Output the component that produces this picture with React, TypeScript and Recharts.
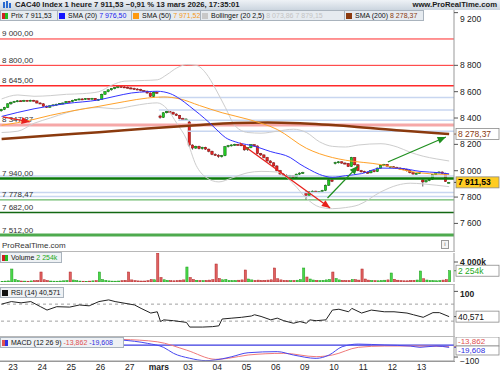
import React from "react";
import { ComposedChart, Bar, Line, XAxis, YAxis, ReferenceLine } from "recharts";

const FONT = "'Liberation Sans', Arial, sans-serif";

// hourly candles: open, high, low, close (20 févr. partial, then 9 bars a day)
const CANDLES: [number, number, number, number][] = [
  [8455, 8470, 8448, 8465], [8465, 8485, 8460, 8480], [8480, 8512, 8476, 8508], [8508, 8524, 8500, 8520],
  // 23
  [8522, 8530, 8515, 8527], [8527, 8536, 8520, 8531], [8531, 8535, 8522, 8526], [8526, 8538, 8524, 8534], [8534, 8537, 8526, 8530],
  [8530, 8539, 8527, 8535], [8535, 8538, 8526, 8530], [8530, 8533, 8510, 8514], [8514, 8520, 8508, 8512],
  // 24
  [8508, 8512, 8485, 8490], [8490, 8495, 8476, 8482], [8482, 8496, 8478, 8493], [8493, 8503, 8488, 8500], [8500, 8508, 8495, 8505],
  [8505, 8514, 8500, 8510], [8510, 8518, 8504, 8514], [8514, 8528, 8508, 8526], [8526, 8530, 8518, 8522],
  // 25
  [8524, 8538, 8520, 8535], [8535, 8543, 8530, 8540], [8540, 8548, 8534, 8545], [8545, 8549, 8536, 8541], [8541, 8551, 8538, 8548],
  [8548, 8552, 8540, 8544], [8544, 8553, 8541, 8550], [8550, 8552, 8532, 8536], [8536, 8545, 8532, 8542],
  // 26
  [8542, 8585, 8540, 8580], [8580, 8604, 8576, 8600], [8600, 8618, 8595, 8614], [8614, 8628, 8608, 8624], [8624, 8636, 8618, 8630],
  [8630, 8645, 8626, 8640], [8640, 8646, 8630, 8636], [8636, 8642, 8628, 8633], [8633, 8640, 8625, 8630],
  // 27
  [8628, 8636, 8618, 8624], [8624, 8630, 8614, 8620], [8620, 8626, 8612, 8617], [8617, 8622, 8604, 8608], [8608, 8612, 8598, 8604],
  [8604, 8608, 8585, 8590], [8590, 8594, 8560, 8565], [8565, 8598, 8558, 8594], [8596, 8602, 8584, 8588],
  // mars
  [8415, 8425, 8395, 8405], [8405, 8445, 8400, 8440], [8440, 8455, 8435, 8450], [8450, 8455, 8438, 8444], [8444, 8448, 8425, 8430],
  [8430, 8436, 8415, 8420], [8420, 8424, 8390, 8396], [8396, 8402, 8380, 8386], [8386, 8398, 8382, 8392],
  // 03
  [8370, 8378, 8180, 8195], [8195, 8200, 8160, 8172], [8172, 8190, 8165, 8185], [8185, 8190, 8162, 8168], [8168, 8182, 8160, 8178],
  [8178, 8182, 8158, 8164], [8164, 8168, 8140, 8148], [8148, 8152, 8118, 8124], [8124, 8132, 8112, 8120],
  // 04
  [8118, 8125, 8098, 8108], [8108, 8120, 8100, 8114], [8114, 8188, 8110, 8182], [8182, 8196, 8176, 8190], [8190, 8200, 8184, 8196],
  [8196, 8205, 8188, 8200], [8200, 8204, 8190, 8197], [8197, 8201, 8186, 8192], [8192, 8195, 8152, 8158],
  // 05
  [8160, 8178, 8150, 8175], [8175, 8202, 8170, 8198], [8198, 8200, 8182, 8188], [8188, 8192, 8125, 8130], [8130, 8135, 8112, 8120],
  [8120, 8124, 8094, 8100], [8100, 8105, 8068, 8074], [8074, 8080, 8054, 8060], [8060, 8064, 8030, 8036],
  // 06
  [8036, 8042, 7995, 8000], [8000, 8006, 7970, 7975], [7975, 7980, 7960, 7965], [7965, 7972, 7950, 7956], [7956, 7968, 7948, 7962],
  [7962, 7966, 7944, 7950], [7950, 7978, 7946, 7974], [7974, 7988, 7968, 7982], [7982, 7992, 7976, 7986],
  // 09
  [7830, 7845, 7780, 7810], [7810, 7845, 7804, 7840], [7840, 7850, 7830, 7845], [7845, 7848, 7832, 7837], [7837, 7846, 7830, 7842],
  [7842, 7855, 7836, 7850], [7850, 7895, 7845, 7890], [7890, 7935, 7884, 7930], [7930, 7934, 7914, 7920],
  // 10
  [8055, 8068, 8048, 8062], [8062, 8072, 8055, 8068], [8068, 8070, 8052, 8058], [8058, 8064, 8048, 8055], [8055, 8058, 8028, 8032],
  [8032, 8105, 8028, 8100], [8100, 8102, 8040, 8045], [8045, 8050, 7996, 8000], [8000, 8006, 7986, 7992],
  // 11
  [7994, 8000, 7982, 7988], [7988, 7994, 7978, 7984], [7984, 8004, 7980, 8000], [8000, 8004, 7988, 7994], [7994, 8024, 7990, 8020],
  [8020, 8044, 8016, 8040], [8040, 8052, 8034, 8048], [8048, 8050, 8030, 8035], [8028, 8036, 8024, 8032],
  // 12
  [8030, 8034, 8018, 8024], [8024, 8030, 8014, 8020], [8020, 8026, 8010, 8015], [8015, 8020, 8004, 8010], [8010, 8014, 7994, 8000],
  [8000, 8004, 7980, 7985], [7985, 7990, 7970, 7975], [7975, 7984, 7972, 7980], [7980, 7988, 7976, 7985],
  // 13
  [7930, 7935, 7880, 7915], [7915, 7930, 7910, 7925], [7925, 7940, 7920, 7935], [7935, 7974, 7930, 7970], [7970, 7990, 7966, 7985],
  [7985, 7996, 7980, 7990], [7990, 7995, 7975, 7980], [7980, 7984, 7915, 7918], [7906, 7915, 7904, 7911.53],
];

// volume in thousands, same bars
const VOLUME = [
  150, 180, 220, 2600,
  500, 300, 200, 180, 160, 220, 260, 300, 2000,
  450, 280, 200, 170, 160, 200, 240, 300, 2000,
  400, 260, 190, 160, 150, 180, 230, 280, 2000,
  500, 320, 220, 180, 170, 200, 260, 320, 2000,
  420, 280, 220, 200, 200, 260, 500, 450, 5800,
  900, 450, 320, 260, 240, 280, 360, 420, 3000,
  900, 500, 350, 300, 280, 320, 380, 460, 3600,
  700, 450, 520, 320, 280, 300, 360, 420, 2400,
  600, 420, 320, 380, 300, 320, 380, 440, 2800,
  650, 420, 320, 280, 260, 300, 360, 480, 2800,
  1000, 600, 400, 320, 300, 340, 420, 520, 2000,
  700, 420, 320, 280, 300, 500, 460, 380, 2600,
  600, 380, 300, 260, 250, 300, 360, 420, 1800,
  550, 360, 280, 240, 240, 300, 340, 400, 2200,
  650, 400, 300, 260, 250, 300, 380, 460, 2254,
];

const DAY_START = [4, 13, 22, 31, 40, 49, 58, 67, 76, 85, 94, 103, 112, 121, 130];
const DAY_LABELS = ["23", "24", "25", "26", "27", "mars", "03", "04", "05", "06", "09", "10", "11", "12", "13"];

// indicator readings at some bars: [bar, value]
const SMA20_PTS: [number, number][] = [
  [0, 8412], [10, 8470], [20, 8510], [30, 8538], [35, 8565], [40, 8590], [45, 8600], [48, 8603], [52, 8585],
  [55, 8545], [58, 8489], [61, 8430], [64, 8366], [67, 8295], [69, 8252], [72, 8220], [74, 8206], [77, 8192],
  [83, 8145], [89, 8100], [92, 8050], [95, 8008], [98, 7972], [102, 7950], [106, 7962], [111, 7978], [117, 8020],
  [123, 8018], [129, 7995], [135, 7985], [138, 7976.5],
];
const SMA50_PTS: [number, number][] = [
  [0, 8345], [5, 8365], [10, 8390], [15, 8420], [22, 8455], [30, 8489], [38, 8525], [45, 8552], [50, 8560],
  [55, 8545], [61, 8495], [68, 8440], [76, 8390], [85, 8313], [94, 8170], [102, 8100], [106, 8080], [117, 8046],
  [126, 7995], [133, 7975], [138, 7971.52],
];
const SMA200_PTS: [number, number][] = [
  [0, 8240], [15, 8268], [30, 8292], [45, 8320], [60, 8345], [72, 8362], [82, 8366], [92, 8360], [108, 8336],
  [123, 8305], [138, 8278.37],
];
const BB_UP_PTS: [number, number][] = [
  [0, 8545], [5, 8575], [10, 8565], [15, 8570], [20, 8580], [25, 8585], [30, 8600], [34, 8650], [38, 8680],
  [44, 8685], [48, 8690], [51, 8730], [54, 8780], [57, 8805], [60, 8800], [63, 8740], [66, 8620], [69, 8480],
  [72, 8340], [76, 8290], [80, 8285], [85, 8300], [90, 8315], [94, 8290], [98, 8220], [102, 8185], [106, 8180],
  [110, 8195], [117, 8205], [122, 8180], [126, 8140], [130, 8110], [134, 8090], [138, 8073.86],
];
const BB_LO_PTS: [number, number][] = [
  [0, 8290], [5, 8300], [10, 8360], [15, 8400], [20, 8440], [25, 8470], [30, 8480], [35, 8470], [40, 8490],
  [45, 8510], [48, 8515], [51, 8470], [54, 8360], [57, 8240], [60, 8040], [63, 7950], [67, 7915], [71, 7945],
  [76, 7985], [80, 7995], [85, 7990], [90, 7900], [94, 7790], [98, 7725], [102, 7712], [106, 7720], [110, 7740],
  [117, 7840], [122, 7890], [126, 7905], [130, 7900], [134, 7890], [138, 7879.15],
];
const RSI_PTS: [number, number][] = [
  [0, 70], [3, 76], [6, 73], [9, 76], [12, 64], [14, 56], [17, 64], [21, 63], [24, 68], [27, 66], [30, 76],
  [33, 80], [35, 76], [41, 68], [43, 60], [46, 49], [48, 52], [49, 29], [50, 33], [53, 31], [57, 27], [58, 16],
  [62, 16], [65, 17], [67, 19], [68, 35], [71, 37], [74, 39], [77, 42], [78, 45], [80, 41], [83, 33], [85, 37],
  [87, 31], [90, 25], [92, 29], [94, 25], [95, 33], [97, 31], [100, 33], [102, 56], [104, 58], [107, 52],
  [108, 60], [111, 49], [114, 56], [118, 52], [121, 52], [125, 49], [127, 45], [130, 39], [133, 50], [135, 50],
  [138, 40.571],
];
const MACD_PTS: [number, number][] = [
  [0, 60], [10, 62], [20, 55], [30, 52], [37, 42], [45, 14], [50, -20], [53, -69], [58, -110], [63, -130],
  [68, -115], [71, -97], [76, -64], [85, -55], [90, -83], [97, -111], [101, -83], [105, -14], [110, 8],
  [118, 0], [126, -8], [129, -19], [134, -8], [138, -19.608],
];
const SIGNAL_PTS: [number, number][] = [
  [0, 50], [10, 55], [20, 55], [30, 50], [37, 47], [48, 27], [57, -42], [66, -119], [70, -110], [76, -83],
  [87, -69], [97, -97], [102, -83], [110, -19], [118, -8], [128, -8], [138, -13.862],
];

const PRICE_TICKS = [7400, 7600, 7800, 8000, 8200, 8400, 8600, 8800, 9000, 9200];
const RED_LEVELS = [9000, 8800, 8645];
const PIVOT_LEVEL = 8347.87;
const GREEN_LEVELS = [7940, 7778.47, 7682, 7512];
// [price, first bar]
const BLUE_LEVELS: [number, number][] = [[8555, 49], [8460, 49], [8384, 55], [8300, 58], [7960, 0], [7835, 0], [7805, 0]];
// [[x, price], [x, price]]
const RED_ARROWS: [[number, number], [number, number]][] = [[[0.9, 8408], [9.2, 8370]], [[74, 8210], [101.8, 7717]]];
const GREEN_ARROWS: [[number, number], [number, number]][] = [[[101, 7793], [110.4, 8035]], [[119.6, 8066], [137.5, 8256]]];

const fmt = (v: number, dec: number) => {
  const [i, d] = Math.abs(v).toFixed(dec).split(".");
  const s = i.replace(/\B(?=(\d{3})+(?!\d))/g, " ");
  return (v < 0 ? "-" : "") + s + (d ? "," + d : "");
};

const rows: any[] = CANDLES.map(([o, h, l, c], i) => ({
  x: i + 0.5, o, h, l, c, hl: [l, h], vol: VOLUME[i], up: c >= o,
}));
const put = (key: string, pts: [number, number][]) => pts.forEach(([i, v]) => { rows[i][key] = v; });
put("sma20", SMA20_PTS);
put("sma50", SMA50_PTS);
put("sma200", SMA200_PTS);
put("bbUp", BB_UP_PTS);
put("bbLo", BB_LO_PTS);
put("rsi", RSI_PTS);
put("macd", MACD_PTS);
put("signal", SIGNAL_PTS);

const last = CANDLES[CANDLES.length - 1];
const lastVal = (pts: [number, number][]) => pts[pts.length - 1][1];

const W = 500;
const AXIS_W = 46;
const X_DOMAIN: [number, number] = [0, 140];
const MARGIN = { top: 0, right: 0, bottom: 0, left: 0 };

const Candle = (p: any) => {
  const { x, y, width, height, payload } = p;
  if (!payload) return null;
  const top = Math.min(y, y + height);
  const hh = Math.abs(height);
  const k = payload.h === payload.l ? 0 : hh / (payload.h - payload.l);
  const oy = top + (payload.h - payload.o) * k;
  const cy = top + (payload.h - payload.c) * k;
  const cx = x + width / 2;
  const up = payload.c >= payload.o;
  return (
    <g>
      <line x1={cx} y1={top} x2={cx} y2={top + hh} stroke="#333" strokeWidth={0.8} />
      <rect x={x} y={Math.min(oy, cy)} width={width} height={Math.max(1, Math.abs(oy - cy))}
        fill={up ? "#22cc22" : "#e52222"} stroke={up ? "#0b5e0b" : "#7d1010"} strokeWidth={0.5} />
    </g>
  );
};

const VolBar = (p: any) => {
  const { x, y, width, height, payload } = p;
  if (!payload) return null;
  return <rect x={x} y={y} width={width} height={Math.max(0.5, height)}
    fill={payload.up ? "#48d848" : "#e06060"} stroke={payload.up ? "#1d9a1d" : "#b02424"} strokeWidth={0.5} />;
};

const level = (label: string, color: string, w: number) => (p: any) => {
  const left = Math.min(p.x1, p.x2);
  return (
    <g>
      <line x1={p.x1} y1={p.y1} x2={p.x2} y2={p.y2} stroke={color} strokeWidth={w} />
      {label ? <text x={left + 2} y={p.y1 - 2.5} fontSize={8} fill="#333" fontFamily={FONT}>{label}</text> : null}
    </g>
  );
};

const arrow = (color: string) => (p: any) => {
  const { x1, y1, x2, y2 } = p;
  const a = Math.atan2(y2 - y1, x2 - x1);
  const L = 9, s = 0.4;
  const pts = [
    [x2, y2],
    [x2 - L * Math.cos(a - s), y2 - L * Math.sin(a - s)],
    [x2 - L * Math.cos(a + s), y2 - L * Math.sin(a + s)],
  ].map((q) => q.join(",")).join(" ");
  return (
    <g>
      <line x1={x1} y1={y1} x2={x2} y2={y2} stroke={color} strokeWidth={1.3} />
      <polygon points={pts} fill={color} />
    </g>
  );
};

const valueBox = (text: string, color: string, bg: string, dy = 0, bold = false, h = 11, fs = 8.5) => (p: any) => {
  const right = Math.max(p.x1, p.x2);
  const x = right + 2;
  const y = p.y1 + dy;
  return (
    <g>
      <line x1={right} y1={p.y1} x2={right + 3} y2={p.y1} stroke={color} strokeWidth={1} />
      <rect x={x} y={y - h / 2} width={43} height={h} fill={bg} stroke="#8a8a8a" strokeWidth={0.8} />
      <text x={x + 2} y={y + fs * 0.35} fontSize={fs} fill={color} fontFamily={FONT} fontWeight={bold ? 700 : 400}>{text}</text>
    </g>
  );
};

const axisTick = (fmtFn: (v: number) => string, minY: number, maxY: number, bold = false) => (p: any) => {
  const y = Math.min(Math.max(p.y, minY), maxY);
  return (
    <text x={p.x} y={y + 3} fontSize={8.5} fill="#222" fontFamily={FONT} fontWeight={bold ? 700 : 400}>
      {fmtFn(p.payload.value)}
    </text>
  );
};

const DayTick = (p: any) => {
  const i = DAY_START.indexOf(p.payload.value);
  const label = DAY_LABELS[i] ?? "";
  return (
    <text x={p.x} y={p.y + 9} textAnchor="middle" fontSize={8.5} fill="#222" fontFamily={FONT}
      fontWeight={label === "mars" ? 700 : 400}>{label}</text>
  );
};

const box: React.CSSProperties = {
  position: "absolute", height: 9, background: "#e6ebf0", border: "1px solid #a9b3bd",
  fontSize: 7, lineHeight: "9px", fontFamily: FONT, whiteSpace: "nowrap", color: "#111", overflow: "hidden",
};
const sq = (c: string): React.CSSProperties => ({
  display: "inline-block", width: 6, height: 6, background: c, marginRight: 3, verticalAlign: "-0.5px",
});

const LegendItem = ({ left, width, icon, label, value, color }: any) => (
  <div style={{ ...box, left, width, top: 10 }}>
    <span style={{ marginLeft: 1 }} />
    {icon === "split" ? (
      <span style={{ ...sq("#22bb22"), background: "linear-gradient(90deg,#d02020 50%,#22bb22 50%)" }} />
    ) : (
      <span style={sq(icon)} />
    )}
    <span>{label} </span>
    <span style={{ color }}>{value}</span>
  </div>
);

const panelLine = (top: number): React.CSSProperties => ({
  position: "absolute", left: 0, top, width: 455, height: 1, background: "#b8b8b8",
});

export default function App() {
  return (
    <div style={{ position: "absolute", left: 0, top: 0, width: W, height: 375, background: "#fff", overflow: "hidden" }}>
      {/* price */}
      <div style={{ position: "absolute", left: 0, top: 10 }}>
        <ComposedChart width={W} height={242} data={rows} margin={MARGIN}>
          <XAxis dataKey="x" type="number" domain={X_DOMAIN} hide allowDataOverflow />
          <YAxis orientation="right" width={AXIS_W} domain={[7383, 9220]} ticks={PRICE_TICKS} allowDataOverflow
            tick={axisTick((v) => fmt(v, 0), 8, 236)} tickSize={4} tickLine={{ stroke: "#555" }} axisLine={{ stroke: "#999" }} />
          {BLUE_LEVELS.map(([v, from]) => (
            <ReferenceLine key={"b" + v} segment={[{ x: from, y: v }, { x: 140, y: v }]} shape={level("", "#c8d6f0", 1.5)} />
          ))}
          {RED_LEVELS.map((v, i) => (
            <ReferenceLine key={"r" + v} y={v} shape={level(fmt(v, 2), "#ff2a2a", i === 2 ? 1.3 : 1)} />
          ))}
          <ReferenceLine y={PIVOT_LEVEL} shape={level(fmt(PIVOT_LEVEL, 2), "#f6a8a8", 3)} />
          {GREEN_LEVELS.map((v, i) => (
            <ReferenceLine key={"g" + v} y={v}
              shape={level(fmt(v, 2), ["#0b7a0b", "#45a845", "#136813", "#4eaa4e"][i], [2.5, 1, 1.5, 3][i])} />
          ))}
          <Line dataKey="bbUp" type="monotone" stroke="#cdcdcd" strokeWidth={1} dot={false} connectNulls isAnimationActive={false} />
          <Line dataKey="bbLo" type="monotone" stroke="#cdcdcd" strokeWidth={1} dot={false} connectNulls isAnimationActive={false} />
          <Line dataKey="sma200" type="monotone" stroke="#8b3a0e" strokeWidth={2.5} dot={false} connectNulls isAnimationActive={false} />
          <Line dataKey="sma50" type="monotone" stroke="#ffa22a" strokeWidth={1} dot={false} connectNulls isAnimationActive={false} />
          <Line dataKey="sma20" type="monotone" stroke="#3434ff" strokeWidth={1} dot={false} connectNulls isAnimationActive={false} />
          <Bar dataKey="hl" barSize={2.4} shape={Candle} isAnimationActive={false} />
          {RED_ARROWS.map(([a, b], i) => (
            <ReferenceLine key={"ra" + i} segment={[{ x: a[0], y: a[1] }, { x: b[0], y: b[1] }]} shape={arrow("#e8201c")} />
          ))}
          {GREEN_ARROWS.map(([a, b], i) => (
            <ReferenceLine key={"ga" + i} segment={[{ x: a[0], y: a[1] }, { x: b[0], y: b[1] }]} shape={arrow("#1f8f1f")} />
          ))}
          <ReferenceLine y={lastVal(SMA200_PTS)} shape={valueBox(fmt(lastVal(SMA200_PTS), 2), "#8b3a0e", "#fff")} />
          <ReferenceLine y={last[3]} shape={valueBox(fmt(last[3], 2), "#000", "#ffcc22", 0, true)} />
        </ComposedChart>
      </div>

      {/* header */}
      <div style={{ position: "absolute", left: 0, top: 0, width: W, height: 10, background: "linear-gradient(#eef2f6,#cbd5df)",
        fontFamily: FONT, fontSize: 7.7, lineHeight: "10px", fontWeight: 700, color: "#1a1a1a", whiteSpace: "nowrap" }}>
        <span style={{ position: "absolute", left: 3, top: 2, width: 1.5, height: 6, background: "#2a6ad0" }} />
        <span style={{ position: "absolute", left: 6, top: 1, width: 1.5, height: 7, background: "#2a6ad0" }} />
        <span style={{ position: "absolute", left: 9, top: 3, width: 1.5, height: 5, background: "#2a6ad0" }} />
        <span style={{ position: "absolute", left: 15 }}>
          CAC40 Index 1 heure {fmt(last[3], 2)} −0,91 % 13 mars 2026, 17:35:01
        </span>
        <span style={{ position: "absolute", right: 3 }}>www.ProRealTime.com</span>
      </div>
      <LegendItem left={0} width={56} icon="split" label="Prix" value={fmt(last[3], 2)} color="#111" />
      <LegendItem left={57} width={73} icon="#1414ff" label="SMA (20)" value={fmt(lastVal(SMA20_PTS), 2)} color="#2020ee" />
      <LegendItem left={131} width={68} icon="#ff9a10" label="SMA (50)" value={fmt(lastVal(SMA50_PTS), 2)} color="#f59a20" />
      <LegendItem left={200} width={143} icon="#c8c8c8" label="Bollinger (20 2,5)"
        value={fmt(lastVal(BB_UP_PTS), 2) + " " + fmt(lastVal(BB_LO_PTS), 2)} color="#c4c4c4" />
      <LegendItem left={344} width={78} icon="#8b3a0e" label="SMA (200)" value={fmt(lastVal(SMA200_PTS), 2)} color="#8b3a0e" />

      <div style={{ position: "absolute", left: 2, top: 241, fontFamily: FONT, fontSize: 8, color: "#333" }}>ProRealTime.com</div>
      <div style={{ position: "absolute", left: 441, top: 240, width: 6, height: 7, border: "1px solid #999",
        fontFamily: FONT, fontSize: 6, lineHeight: "7px", textAlign: "center", color: "#666", background: "#f4f4f4" }}>i</div>
      <div style={panelLine(251)} />

      {/* volume */}
      <div style={{ position: "absolute", left: 0, top: 253 }}>
        <ComposedChart width={W} height={29} data={rows} margin={MARGIN}>
          <XAxis dataKey="x" type="number" domain={X_DOMAIN} hide allowDataOverflow />
          <YAxis orientation="right" width={AXIS_W} domain={[0, 5800]} ticks={[0, 4000]} allowDataOverflow
            tick={axisTick((v) => (v === 0 ? "0" : fmt(v, 0) + "k"), 4, 26, true)} tickSize={4}
            tickLine={{ stroke: "#555" }} axisLine={{ stroke: "#999" }} />
          <Bar dataKey="vol" barSize={2.2} shape={VolBar} isAnimationActive={false} />
          <ReferenceLine y={VOLUME[VOLUME.length - 1]} shape={valueBox(fmt(VOLUME[VOLUME.length - 1], 0) + "k", "#22aa22", "#fff")} />
        </ComposedChart>
      </div>
      <div style={{ ...box, left: 0, top: 252, width: 60, background: "#eef1f4" }}>
        <span style={{ marginLeft: 1 }} />
        <span style={{ ...sq("#22bb22"), background: "linear-gradient(90deg,#d02020 50%,#22bb22 50%)" }} />
        Volume <span style={{ color: "#22aa22" }}>{fmt(VOLUME[VOLUME.length - 1], 0)}k</span>
      </div>
      <div style={panelLine(284)} />

      {/* RSI */}
      <div style={{ position: "absolute", left: 0, top: 285 }}>
        <ComposedChart width={W} height={51} data={rows} margin={MARGIN}>
          <XAxis dataKey="x" type="number" domain={X_DOMAIN} hide allowDataOverflow />
          <YAxis orientation="right" width={AXIS_W} domain={[-5, 115]} ticks={[0, 50, 100]} allowDataOverflow
            tick={axisTick((v) => String(v), 4, 46, true)} tickSize={4} tickLine={{ stroke: "#555" }} axisLine={{ stroke: "#999" }} />
          <ReferenceLine y={70} stroke="#a0a0a0" strokeDasharray="3 3" />
          <ReferenceLine y={30} stroke="#a0a0a0" strokeDasharray="3 3" />
          <Line dataKey="rsi" type="linear" stroke="#222" strokeWidth={1} dot={false} connectNulls isAnimationActive={false} />
          <ReferenceLine y={lastVal(RSI_PTS)} shape={valueBox(fmt(lastVal(RSI_PTS), 3), "#111", "#fff")} />
        </ComposedChart>
      </div>
      <div style={{ ...box, left: 0, top: 287, width: 62, background: "#eef1f4" }}>
        <span style={{ marginLeft: 1 }} />
        <span style={sq("#111")} />
        RSI (14) {fmt(lastVal(RSI_PTS), 3)}
      </div>
      <div style={panelLine(336)} />

      {/* MACD */}
      <div style={{ position: "absolute", left: 0, top: 337 }}>
        <ComposedChart width={W} height={38} data={rows} margin={MARGIN}>
          <XAxis dataKey="x" type="number" domain={X_DOMAIN} ticks={DAY_START} allowDataOverflow height={14}
            tick={DayTick} tickSize={0} tickMargin={0} axisLine={{ stroke: "#999" }} interval={0} />
          <YAxis orientation="right" width={AXIS_W} domain={[-133, 67]} ticks={[-100]} allowDataOverflow
            tick={axisTick((v) => "−" + Math.abs(v), 23.5, 24)} tickSize={4} tickLine={{ stroke: "#555" }} axisLine={{ stroke: "#999" }} />
          <ReferenceLine y={0} stroke="#3a3ae0" strokeWidth={1.2} />
          <Line dataKey="signal" type="monotone" stroke="#f07a7a" strokeWidth={1} dot={false} connectNulls isAnimationActive={false} />
          <Line dataKey="macd" type="monotone" stroke="#4848f0" strokeWidth={1} dot={false} connectNulls isAnimationActive={false} />
          <ReferenceLine y={lastVal(SIGNAL_PTS)} shape={valueBox(fmt(lastVal(SIGNAL_PTS), 3), "#e05050", "#fff", -5.2, false, 9, 8)} />
          <ReferenceLine y={lastVal(MACD_PTS)} shape={valueBox(fmt(lastVal(MACD_PTS), 3), "#3030e0", "#fff", 3.1, false, 9, 8)} />
        </ComposedChart>
      </div>
      <div style={{ ...box, left: 0, top: 337, width: 122, background: "#eef1f4" }}>
        <span style={{ marginLeft: 1 }} />
        <span style={{ ...sq("#3030e0"), background: "linear-gradient(90deg,#e05050 50%,#3030e0 50%)" }} />
        MACD (12 26 9) <span style={{ color: "#e05050" }}>{fmt(lastVal(SIGNAL_PTS), 3)}</span>{" "}
        <span style={{ color: "#3030e0" }}>{fmt(lastVal(MACD_PTS), 3)}</span>
      </div>
      <div style={{ ...panelLine(361), background: "#999" }} />
    </div>
  );
}
